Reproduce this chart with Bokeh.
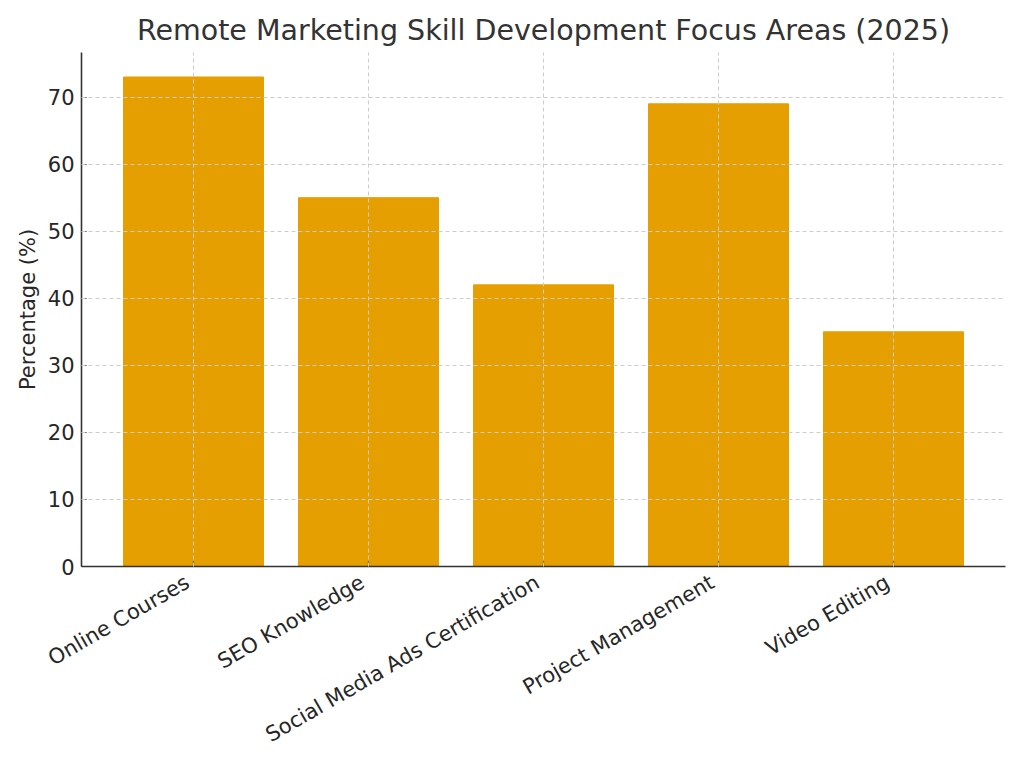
import math
from bokeh.plotting import figure
from bokeh.models import Range1d, FixedTicker, ColumnDataSource, LinearAxis, CustomJSTickFormatter
from bokeh.embed import file_html
from bokeh.resources import INLINE

categories = ["Online Courses", "SEO Knowledge", "Social Media Ads Certification",
              "Project Management", "Video Editing"]
values = [73, 55, 42, 69, 35]
y_ticks = [0, 10, 20, 30, 40, 50, 60, 70]

positions = list(range(len(categories)))
source = ColumnDataSource(dict(x=positions, top=values))

FONT = "DejaVu Sans"
X_PAD = 0.64
FRAME_W = 924
label_shift = 6 / (FRAME_W / (len(categories) - 1 + 2 * X_PAD))  # ~6 px to the left

p = figure(width=1024, height=768, output_backend="svg", toolbar_location=None,
           x_range=Range1d(-X_PAD, len(categories) - 1 + X_PAD),
           y_range=Range1d(0, max(values) * 1.05),
           min_border_left=81, min_border_right=19, min_border_top=52, min_border_bottom=202)

p.vbar(x="x", top="top", width=0.8, source=source, fill_color="#E69F00", line_color="#E69F00")

p.title.text = "Remote Marketing Skill Development Focus Areas (2025)"
p.title.text_font = FONT
p.title.text_font_size = "28.5px"
p.title.text_font_style = "normal"
p.title.text_color = "#333333"
p.title.align = "center"
p.title.standoff = 11

p.outline_line_color = None
p.background_fill_color = "white"
p.border_fill_color = "white"

def style_axis(ax):
    ax.axis_line_color = "#333333"
    ax.axis_line_width = 1.6
    ax.major_tick_in = 5
    ax.major_tick_out = 0
    ax.major_tick_line_color = "#333333"
    ax.major_tick_line_width = 1.2
    ax.minor_tick_line_color = None
    ax.major_label_text_font = FONT
    ax.major_label_text_font_size = "21px"
    ax.major_label_text_color = "#262626"
    ax.axis_label_text_font = FONT
    ax.axis_label_text_font_size = "21px"
    ax.axis_label_text_font_style = "normal"
    ax.axis_label_text_color = "#262626"

style_axis(p.xaxis[0])
style_axis(p.yaxis[0])

p.yaxis.ticker = FixedTicker(ticks=y_ticks)
p.yaxis.axis_label = "Percentage (%)"
p.yaxis.major_label_standoff = 7
p.yaxis.axis_label_standoff = 5

# axis line + inward tick marks at the bar centres
p.xaxis[0].ticker = FixedTicker(ticks=positions)
p.xaxis[0].major_label_text_color = None
p.xaxis[0].major_label_text_font_size = "0px"
p.xaxis[0].major_label_standoff = 0

# rotated category labels, right-aligned just left of each tick
label_axis = LinearAxis(ticker=FixedTicker(ticks=[x - label_shift for x in positions]),
                        formatter=CustomJSTickFormatter(args=dict(cats=categories),
                                                        code="return cats[Math.round(tick)]"))
style_axis(label_axis)
label_axis.axis_line_color = None
label_axis.major_tick_line_color = None
label_axis.major_label_orientation = math.pi / 6
label_axis.major_label_standoff = 14
p.add_layout(label_axis, "below")

for g in (p.xgrid[0], p.ygrid[0]):
    g.grid_line_color = "#cccccc"
    g.grid_line_dash = "4 3"
    g.grid_line_width = 1
    g.level = "overlay"
p.xgrid.ticker = FixedTicker(ticks=positions)
p.ygrid.ticker = FixedTicker(ticks=y_ticks)

open("out.html", "w").write(file_html(p, INLINE))
